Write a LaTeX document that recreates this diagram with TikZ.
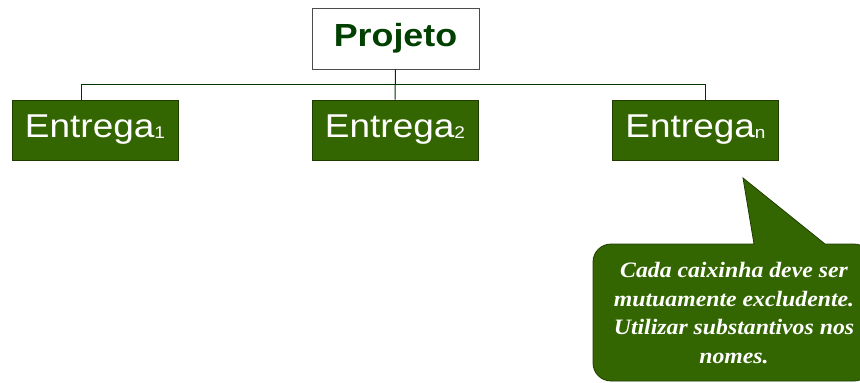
\documentclass[tikz,border=0pt]{standalone}
\usepackage{fontspec}
\newfontfamily\arialx[FakeStretch=1.12]{Liberation Sans}
\newfontfamily\timesx[FakeStretch=1.08]{Liberation Serif}
\definecolor{boxgreen}{RGB}{51,102,0}
\definecolor{darkline}{RGB}{0,51,0}
\definecolor{titlegreen}{RGB}{0,64,0}
\definecolor{edgegreen}{RGB}{30,60,0}
\tikzset{
  entbox/.style={draw=edgegreen, fill=boxgreen, line width=0.8pt, minimum width=166pt, minimum height=60pt, inner sep=0pt, text=white, font=\arialx\fontsize{33}{36}\selectfont},
  projbox/.style={draw=black!70, fill=white, line width=0.8pt, minimum width=167pt, minimum height=61pt, inner sep=0pt, text=titlegreen, font=\arialx\bfseries\fontsize{32}{36}\selectfont},
  conn/.style={draw=darkline, line width=1pt},
  calloutshape/.style={draw=edgegreen, fill=boxgreen, line width=0.8pt},
  callouttext/.style={text=white, align=center, font=\timesx\bfseries\itshape\fontsize{22}{28.5}\selectfont}
}
\begin{document}
\begin{tikzpicture}[x=1pt,y=-1pt]
\useasboundingbox (0,0) rectangle (860,383);
\node[projbox] (P) at (395.5,38.5) {Projeto};
\node[entbox] (E1) at (95,130) {Entrega\raisebox{-1pt}{\fontsize{17}{17}\selectfont 1}};
\node[entbox] (E2) at (395,130) {Entrega\raisebox{-1pt}{\fontsize{17}{17}\selectfont 2}};
\node[entbox] (En) at (695.5,130) {Entrega\raisebox{-1pt}{\fontsize{17}{17}\selectfont n}};
\coordinate (bus) at (395.5,84);
\draw[conn] (P.south) -- (E2.north);
\draw[conn] ([xshift=70pt]E1.north west) |- (bus);
\draw[conn] ([xshift=93pt]En.north west) |- (bus);
\coordinate (tip) at (743,178);
\draw[calloutshape] (tip) -- (754,244) [rounded corners=18pt] -- (593,244) -- (593,381) -- (872,381) -- (872,244) [sharp corners] -- (825,244) -- cycle;
\node[callouttext] (note) at (734,313) {Cada caixinha deve ser\\mutuamente excludente.\\Utilizar substantivos nos\\nomes.};
\end{tikzpicture}
\end{document}
